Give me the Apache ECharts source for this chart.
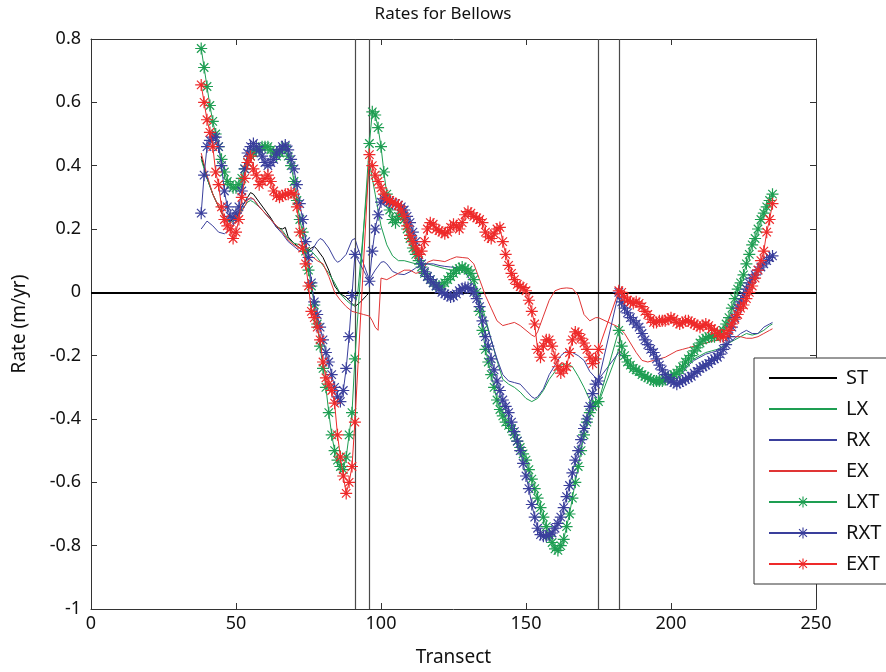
<!DOCTYPE html>
<html>
<head>
<meta charset="utf-8">
<script src="https://cdn.jsdelivr.net/npm/echarts@6/dist/echarts.min.js"></script>
<style>html,body{margin:0;padding:0;background:#fff}#c{width:886px;height:672px}</style>
</head>
<body>
<div id="c"></div>
<script>
// ---------- DATA ----------
const titleText = 'Rates for Bellows';
const xName = 'Transect';
const yName = 'Rate (m/yr)';
const xTicks = [0, 50, 100, 150, 200, 250];
const yTicks = [-1, -0.8, -0.6, -0.4, -0.2, 0, 0.2, 0.4, 0.6, 0.8];
const boundaries = [91, 96, 175, 182];
const zeroLine = 0;

// star series: consecutive transects per segment
const starSegmentStarts = [38, 96, 182];
const lxtValues = [
  [0.77,0.71,0.65,0.59,0.54,0.50,0.46,0.42,0.38,0.35,
   0.34,0.33,0.33,0.34,0.36,0.39,0.41,0.43,0.44,0.45,
   0.45,0.46,0.46,0.46,0.45,0.44,0.43,0.44,0.45,0.46,
   0.43,0.40,0.35,0.29,0.23,0.19,0.13,0.07,0.02,-0.04,
   -0.10,-0.17,-0.24,-0.30,-0.38,-0.45,-0.50,-0.53,-0.55,-0.56,
   -0.52,-0.45,-0.38,-0.21],
  [0.47,0.57,0.56,0.52,0.46,0.38,0.31,0.26,0.23,0.22,
   0.24,0.25,0.23,0.20,0.17,0.14,0.12,0.10,0.08,0.06,
   0.05,0.04,0.03,0.02,0.02,0.02,0.03,0.04,0.05,0.06,
   0.07,0.075,0.08,0.075,0.07,0.06,0.04,0.00,-0.06,-0.12,
   -0.18,-0.22,-0.26,-0.30,-0.34,-0.37,-0.39,-0.41,-0.42,-0.43,
   -0.45,-0.47,-0.49,-0.51,-0.53,-0.56,-0.59,-0.62,-0.65,-0.68,
   -0.71,-0.74,-0.77,-0.79,-0.81,-0.815,-0.80,-0.78,-0.74,-0.70,
   -0.65,-0.60,-0.55,-0.50,-0.45,-0.41,-0.38,-0.36,-0.35,-0.345],
  [-0.12,-0.17,-0.20,-0.22,-0.23,-0.24,-0.245,-0.25,-0.26,-0.265,
   -0.27,-0.275,-0.28,-0.28,-0.28,-0.28,-0.275,-0.27,-0.265,-0.26,
   -0.255,-0.245,-0.235,-0.22,-0.21,-0.20,-0.185,-0.175,-0.16,-0.15,
   -0.145,-0.14,-0.14,-0.14,-0.135,-0.13,-0.12,-0.10,-0.08,-0.05,
   -0.02,0.01,0.03,0.055,0.09,0.12,0.15,0.17,0.20,0.23,
   0.25,0.27,0.29,0.31]
];
const rxtValues = [
  [0.25,0.37,0.46,0.48,0.49,0.49,0.46,0.40,0.32,0.27,
   0.24,0.235,0.25,0.27,0.32,0.39,0.44,0.46,0.47,0.46,
   0.45,0.43,0.41,0.40,0.41,0.42,0.44,0.45,0.46,0.465,
   0.45,0.42,0.39,0.34,0.28,0.23,0.16,0.11,0.03,-0.03,
   -0.07,-0.11,-0.15,-0.19,-0.22,-0.26,-0.30,-0.33,-0.345,-0.31,
   -0.24,-0.14,-0.01,0.12],
  [0.035,0.13,0.20,0.245,0.285,0.295,0.29,0.285,0.28,0.28,
   0.275,0.27,0.26,0.24,0.22,0.19,0.16,0.12,0.09,0.065,
   0.05,0.04,0.03,0.02,0.01,0.00,-0.005,-0.01,-0.015,-0.012,
   -0.005,0.005,0.012,0.015,0.015,0.01,0.00,-0.02,-0.045,-0.09,
   -0.14,-0.17,-0.21,-0.245,-0.28,-0.31,-0.34,-0.36,-0.38,-0.41,
   -0.44,-0.47,-0.50,-0.54,-0.58,-0.62,-0.67,-0.71,-0.745,-0.765,
   -0.77,-0.77,-0.765,-0.76,-0.745,-0.73,-0.71,-0.68,-0.645,-0.61,
   -0.57,-0.53,-0.50,-0.465,-0.43,-0.40,-0.36,-0.32,-0.29,-0.28],
  [0.00,-0.03,-0.05,-0.065,-0.08,-0.09,-0.10,-0.11,-0.13,-0.15,
   -0.165,-0.18,-0.19,-0.21,-0.23,-0.245,-0.26,-0.27,-0.28,-0.285,
   -0.29,-0.285,-0.28,-0.275,-0.27,-0.265,-0.255,-0.25,-0.24,-0.235,
   -0.23,-0.225,-0.215,-0.21,-0.205,-0.195,-0.18,-0.165,-0.14,-0.11,
   -0.08,-0.05,-0.03,-0.01,0.01,0.03,0.045,0.055,0.07,0.08,
   0.09,0.10,0.11,0.115]
];
const extValues = [
  [0.655,0.60,0.545,0.505,0.46,0.38,0.34,0.27,0.23,0.21,
   0.20,0.17,0.19,0.23,0.30,0.36,0.41,0.43,0.39,0.37,
   0.34,0.35,0.36,0.37,0.35,0.32,0.305,0.30,0.305,0.31,
   0.31,0.315,0.31,0.27,0.19,0.14,0.09,0.02,-0.06,-0.08,
   -0.11,-0.15,-0.22,-0.27,-0.29,-0.31,-0.35,-0.45,-0.52,-0.58,
   -0.635,-0.60,-0.55,-0.41],
  [0.435,0.40,0.37,0.35,0.33,0.31,0.295,0.29,0.285,0.28,
   0.275,0.26,0.24,0.21,0.18,0.16,0.14,0.12,0.13,0.16,
   0.20,0.22,0.215,0.20,0.195,0.19,0.185,0.19,0.205,0.215,
   0.21,0.20,0.22,0.245,0.255,0.25,0.24,0.235,0.23,0.22,
   0.19,0.175,0.17,0.185,0.20,0.205,0.16,0.12,0.085,0.06,
   0.04,0.025,0.018,0.015,0.005,-0.025,-0.06,-0.10,-0.18,-0.205,
   -0.17,-0.15,-0.15,-0.17,-0.205,-0.235,-0.255,-0.245,-0.235,-0.19,
   -0.15,-0.125,-0.13,-0.145,-0.16,-0.18,-0.205,-0.225,-0.21,-0.18],
  [0.005,0.00,-0.015,-0.025,-0.03,-0.035,-0.03,-0.035,-0.045,-0.06,
   -0.07,-0.085,-0.095,-0.095,-0.09,-0.09,-0.09,-0.085,-0.08,-0.085,
   -0.095,-0.10,-0.095,-0.09,-0.09,-0.095,-0.10,-0.105,-0.11,-0.105,
   -0.10,-0.105,-0.115,-0.12,-0.13,-0.14,-0.14,-0.13,-0.12,-0.10,
   -0.085,-0.07,-0.05,-0.04,-0.02,0.00,0.02,0.045,0.07,0.10,
   0.13,0.19,0.23,0.28]
];

// thin lines: [transect, rate]
const stPoints = [[38,0.43],[40,0.36],[42,0.31],[44,0.27],[46,0.235],[48,0.225],[50,0.235],[52,0.27],[54,0.30],[55,0.315],
  [56,0.31],[58,0.285],[60,0.26],[62,0.235],[64,0.205],[66,0.20],[67,0.205],[68,0.175],[70,0.155],[72,0.14],
  [74,0.125],[76,0.14],[77,0.145],[78,0.135],[80,0.11],[82,0.07],[84,0.02],[86,-0.005],[88,-0.015],[90,-0.035],
  [91,-0.045],[93,-0.03],[95,-0.01],[96,0.0]];
const lxPoints = [[38,0.42],[40,0.36],[42,0.31],[44,0.27],[46,0.235],[48,0.22],[50,0.23],[52,0.26],[54,0.285],[55,0.29],
  [56,0.285],[58,0.27],[60,0.25],[62,0.23],[64,0.21],[66,0.195],[68,0.17],[70,0.155],[72,0.15],[74,0.14],
  [76,0.13],[78,0.11],[80,0.085],[82,0.06],[84,0.03],[86,-0.005],[88,-0.025],[90,-0.04],[91,-0.04],[92,0.0],
  [94,0.2],[96,0.41],[97,0.36],[98,0.31],[100,0.21],[102,0.15],[104,0.115],[106,0.10],[108,0.10],[110,0.095],
  [112,0.09],[114,0.09],[116,0.09],[118,0.085],[120,0.08],[122,0.075],[124,0.07],[126,0.07],[128,0.07],[130,0.06],
  [132,0.04],[134,-0.02],[136,-0.08],[138,-0.15],[140,-0.215],[142,-0.275],[144,-0.29],[146,-0.30],[148,-0.315],[150,-0.335],
  [152,-0.345],[154,-0.335],[156,-0.31],[158,-0.275],[160,-0.25],[162,-0.23],[164,-0.225],[166,-0.235],[168,-0.265],[170,-0.30],
  [172,-0.34],[174,-0.35],[175,-0.35],[182,-0.18],[184,-0.21],[186,-0.245],[188,-0.26],[190,-0.27],[192,-0.275],[194,-0.275],
  [196,-0.275],[198,-0.27],[200,-0.265],[202,-0.255],[204,-0.245],[206,-0.225],[208,-0.21],[210,-0.20],[212,-0.19],[214,-0.185],
  [216,-0.18],[218,-0.17],[220,-0.16],[222,-0.15],[224,-0.14],[226,-0.13],[228,-0.135],[230,-0.13],[232,-0.12],[234,-0.105],[235,-0.10]];
const rxPoints = [[38,0.20],[40,0.225],[42,0.21],[44,0.19],[46,0.185],[48,0.20],[50,0.225],[52,0.27],[54,0.295],[56,0.295],
  [58,0.27],[60,0.25],[62,0.23],[64,0.205],[66,0.185],[68,0.16],[70,0.145],[72,0.13],[74,0.125],[76,0.13],
  [78,0.16],[79,0.17],[80,0.165],[82,0.14],[84,0.105],[85,0.095],[86,0.10],[88,0.12],[90,0.165],[91,0.17],
  [92,0.14],[94,0.09],[96,0.04],[98,0.07],[100,0.095],[101,0.097],[102,0.09],[104,0.066],[106,0.058],[108,0.056],
  [110,0.065],[112,0.077],[114,0.085],[116,0.09],[118,0.09],[120,0.085],[122,0.082],[124,0.08],[126,0.078],[128,0.075],
  [130,0.05],[132,0.02],[134,-0.04],[136,-0.09],[138,-0.15],[140,-0.21],[142,-0.26],[144,-0.28],[146,-0.285],[148,-0.29],
  [150,-0.31],[152,-0.33],[153,-0.335],[154,-0.33],[156,-0.305],[158,-0.26],[160,-0.23],[162,-0.20],[164,-0.185],[166,-0.19],
  [168,-0.20],[170,-0.215],[172,-0.25],[174,-0.27],[175,-0.275],[182,-0.19],[184,-0.21],[186,-0.23],[188,-0.245],[190,-0.26],
  [192,-0.275],[194,-0.285],[196,-0.29],[198,-0.285],[200,-0.28],[202,-0.27],[204,-0.255],[206,-0.23],[208,-0.215],[210,-0.205],
  [212,-0.195],[214,-0.19],[216,-0.185],[218,-0.18],[220,-0.16],[222,-0.145],[224,-0.13],[226,-0.12],[228,-0.13],[230,-0.13],
  [232,-0.11],[234,-0.10],[235,-0.095]];
const exPoints = [[38,0.44],[40,0.37],[42,0.31],[44,0.27],[46,0.23],[48,0.21],[50,0.225],[52,0.255],[54,0.29],[55,0.30],
  [56,0.295],[58,0.27],[60,0.25],[62,0.23],[64,0.21],[66,0.19],[68,0.165],[70,0.15],[72,0.14],[74,0.125],
  [76,0.115],[78,0.10],[80,0.09],[82,0.05],[84,0.00],[86,-0.025],[88,-0.045],[90,-0.06],[92,-0.065],[94,-0.07],
  [96,-0.075],[97,-0.09],[98,-0.11],[99,-0.12],[100,0.045],[102,0.04],[104,0.05],[106,0.06],[108,0.07],[110,0.07],
  [112,0.06],[114,0.065],[116,0.095],[118,0.102],[120,0.10],[122,0.097],[124,0.105],[126,0.112],[128,0.11],[130,0.108],
  [132,0.09],[134,0.04],[136,-0.01],[138,-0.05],[140,-0.09],[142,-0.105],[144,-0.10],[146,-0.095],[148,-0.105],[150,-0.12],
  [152,-0.135],[153,-0.14],[154,-0.125],[156,-0.075],[158,-0.025],[160,0.005],[162,0.012],[164,0.014],[166,0.012],[168,-0.01],
  [170,-0.07],[172,-0.09],[174,-0.08],[175,-0.08],[182,-0.11],[184,-0.13],[186,-0.16],[188,-0.19],[190,-0.215],[192,-0.22],
  [194,-0.215],[196,-0.21],[198,-0.205],[200,-0.195],[202,-0.185],[204,-0.18],[206,-0.175],[208,-0.17],[210,-0.165],[212,-0.16],
  [214,-0.155],[216,-0.15],[218,-0.145],[220,-0.14],[222,-0.14],[224,-0.14],[226,-0.145],[228,-0.145],[230,-0.14],[232,-0.13],
  [234,-0.12],[235,-0.115]];

const seriesNames = ['ST', 'LX', 'RX', 'EX', 'LXT', 'RXT', 'EXT'];
const seriesColors = ['#000000', '#1e9e52', '#3a3f9c', '#e03535', '#1e9e52', '#3a3f9c', '#ee2a2a'];

// ---------- BUILD ----------
function starData(segments) {
  const out = [];
  segments.forEach((vals, s) => vals.forEach((v, i) => out.push([starSegmentStarts[s] + i, v])));
  return out;
}
const asterisk = 'path://M0 9L20 9L20 11L0 11Z M9 0L11 0L11 20L9 20Z ' +
  'M3.636 2.222L17.778 16.364L16.364 17.778L2.222 3.636Z ' +
  'M17.778 3.636L3.636 17.778L2.222 16.364L16.364 2.222Z';

const font = '"Noto Sans", "Open Sans", sans-serif';
const thinSeries = [stPoints, lxPoints, rxPoints, exPoints].map((pts, i) => ({
  name: seriesNames[i], type: 'line', data: pts, symbol: 'none', showSymbol: false,
  lineStyle: { color: seriesColors[i], width: 1 }, itemStyle: { color: seriesColors[i] },
  z: 2 + i, animation: false, silent: true
}));
const starSeries = [lxtValues, rxtValues, extValues].map((segs, i) => ({
  name: seriesNames[4 + i], type: 'line', data: starData(segs), symbol: asterisk, symbolSize: 12,
  showSymbol: true, showAllSymbol: true,
  lineStyle: { color: seriesColors[4 + i], width: 1 },
  itemStyle: { color: seriesColors[4 + i], borderWidth: 0 },
  z: 6 + i, animation: false, silent: true
}));
const refSeries = {
  name: 'refs', type: 'line', data: [], z: 20, silent: true, animation: false,
  markLine: {
    symbol: 'none', silent: true, animation: false, label: { show: false },
    data: boundaries.map(b => ({ xAxis: b, lineStyle: { color: '#4a4a4a', width: 1.2, type: 'solid' } }))
      .concat([{ yAxis: zeroLine, lineStyle: { color: '#000', width: 2, type: 'solid' } }])
  }
};

const legendData = seriesNames.map((n, i) => i < 4
  ? { name: n, itemStyle: { color: 'transparent', opacity: 0 } }
  : { name: n });

const axisCommon = {
  axisLine: { show: true, onZero: false, lineStyle: { color: '#333', width: 1 } },
  axisTick: { show: true, inside: true, length: 6, lineStyle: { color: '#333' } },
  splitLine: { show: false }
};
const yFmt = v => String(Math.round(v * 10) / 10);

const chart = echarts.init(document.getElementById('c'), null, { renderer: 'canvas' });
chart.setOption({
  animation: false,
  backgroundColor: '#fff',
  textStyle: { fontFamily: font },
  title: {
    text: titleText, left: 'center', top: 6, padding: 0,
    textStyle: { fontSize: 17, fontWeight: 'normal', color: '#111', fontFamily: font }
  },
  grid: { left: 91, top: 39, width: 725, height: 575, containLabel: false },
  legend: {
    data: legendData, orient: 'vertical', left: 754, top: 358,
    itemWidth: 68, itemHeight: 14, itemGap: 11,
    padding: [10, 30, 10, 14],
    backgroundColor: '#fff', borderColor: '#333', borderWidth: 1, borderRadius: 0,
    textStyle: { fontSize: 20, color: '#111', fontFamily: font, padding: [0, 0, 0, 4], lineHeight: 19 },
    selectedMode: false
  },
  xAxis: [
    Object.assign({ type: 'value', min: xTicks[0], max: xTicks[xTicks.length - 1], interval: xTicks[1] - xTicks[0], position: 'bottom',
      name: xName, nameLocation: 'middle', nameGap: 39,
      nameTextStyle: { fontSize: 19, color: '#111', fontFamily: font },
      axisLabel: { fontSize: 18, color: '#111', margin: 6, fontFamily: font } }, axisCommon),
    Object.assign({ type: 'value', min: xTicks[0], max: xTicks[xTicks.length - 1], interval: xTicks[1] - xTicks[0], position: 'top',
      axisLabel: { show: false } }, axisCommon)
  ],
  yAxis: [
    Object.assign({ type: 'value', min: yTicks[0], max: yTicks[yTicks.length - 1], interval: 0.2, position: 'left',
      name: yName, nameLocation: 'middle', nameGap: 62, nameRotate: 90,
      nameTextStyle: { fontSize: 19, color: '#111', fontFamily: font },
      axisLabel: { fontSize: 18, color: '#111', margin: 10, formatter: yFmt, fontFamily: font } }, axisCommon),
    Object.assign({ type: 'value', min: yTicks[0], max: yTicks[yTicks.length - 1], interval: 0.2, position: 'right',
      axisLabel: { show: false } }, axisCommon)
  ],
  series: thinSeries.concat(starSeries).concat([refSeries])
});
</script>
</body>
</html>
